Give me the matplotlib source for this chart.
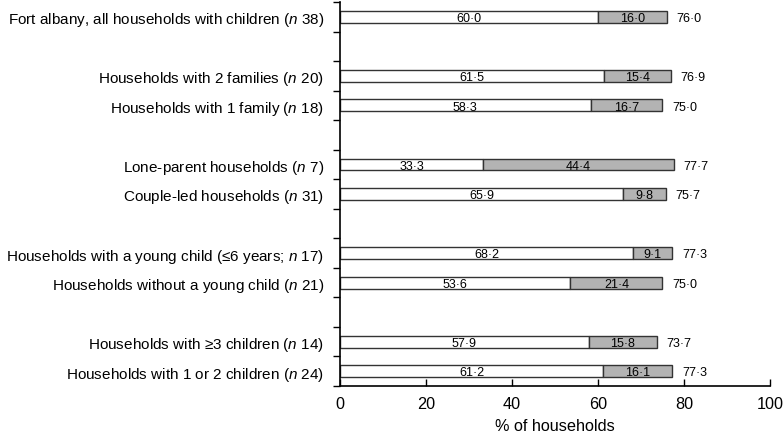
import matplotlib
matplotlib.use("Agg")
import matplotlib.pyplot as plt
import numpy as np

plt.rcParams['font.family'] = ['Liberation Sans', 'DejaVu Sans']
plt.rcParams['mathtext.fontset'] = 'custom'
plt.rcParams['mathtext.it'] = 'Liberation Sans:italic'
plt.rcParams['mathtext.rm'] = 'Liberation Sans'

# data, top to bottom
labels = [
    r"Fort albany, all households with children ($\mathit{n}$ 38)",
    r"Households with 2 families ($\mathit{n}$ 20)",
    r"Households with 1 family ($\mathit{n}$ 18)",
    r"Lone-parent households ($\mathit{n}$ 7)",
    r"Couple-led households ($\mathit{n}$ 31)",
    r"Households with a young child (≤6 years; $\mathit{n}$ 17)",
    r"Households without a young child ($\mathit{n}$ 21)",
    r"Households with ≥3 children ($\mathit{n}$ 14)",
    r"Households with 1 or 2 children ($\mathit{n}$ 24)",
]
first_part = [60.0, 61.5, 58.3, 33.3, 65.9, 68.2, 53.6, 57.9, 61.2]
second_part = [16.0, 15.4, 16.7, 44.4, 9.8, 9.1, 21.4, 15.8, 16.1]
totals = [76.0, 76.9, 75.0, 77.7, 75.7, 77.3, 75.0, 73.7, 77.3]
group_sizes = [1, 2, 2, 2, 2]

# slot positions with an empty slot between groups
pos = []
slot = 0
for g in group_sizes:
    for i in range(g):
        pos.append(slot)
        slot += 1
    slot += 1
n_slots = slot - 1

def fmt(v):
    return ("%.1f" % v).replace(".", "\u00b7")

fig = plt.figure(figsize=(7.83, 4.39), dpi=100)
ax = fig.add_axes([0.4342, 0.1185, 0.5492, 0.8747])

edge = "#333333"
ax.barh(pos, first_part, height=0.4, color="white", edgecolor=edge, linewidth=1)
ax.barh(pos, second_part, left=first_part, height=0.4, color="#b3b3b3",
        edgecolor=edge, linewidth=1)

for p, a, b, t in zip(pos, first_part, second_part, totals):
    ax.text(a / 2, p + 0.04, fmt(a), ha="center", va="center", fontsize=9)
    ax.text(a + b / 2, p + 0.04, fmt(b), ha="center", va="center", fontsize=9)
    ax.text(t + 2.2, p + 0.04, fmt(t), ha="left", va="center", fontsize=9)

ax.set_xlim(0, 100)
ax.set_ylim(n_slots - 0.5, -0.5)
ax.set_yticks(pos)
ax.set_yticklabels(labels, fontsize=11.0)
ax.set_yticks(np.arange(-0.5, n_slots, 1), minor=True)
ax.tick_params(axis="y", which="major", length=0, pad=11.5)
ax.tick_params(axis="y", which="minor", direction="out", length=5, width=1)
ax.set_xticks(range(0, 101, 20))
ax.tick_params(axis="x", direction="in", length=5, width=1, labelsize=11.7, pad=7)
ax.set_xlabel("% of households", fontsize=11.7, labelpad=5)

ax.spines["top"].set_visible(False)
ax.spines["right"].set_visible(False)
ax.spines["left"].set_linewidth(1.2)
ax.spines["bottom"].set_linewidth(1.2)

fig.savefig("out.png", dpi=100)
